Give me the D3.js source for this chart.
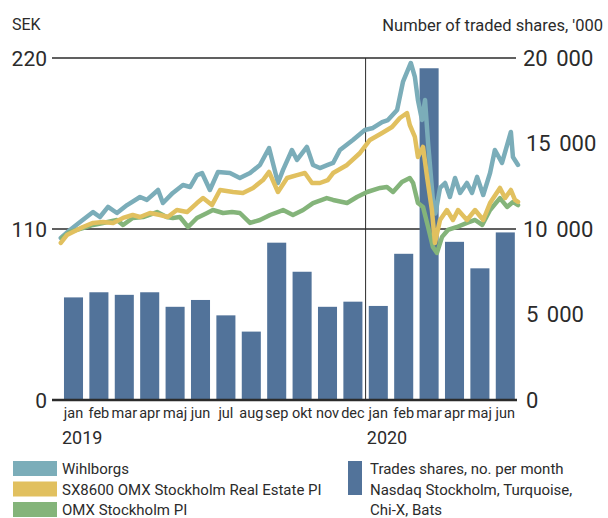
<!DOCTYPE html>
<html><head><meta charset="utf-8">
<script src="https://cdn.jsdelivr.net/npm/d3@7"></script>
<style>
body{margin:0;background:#fff;}
text{font-family:Roboto,"Noto Sans",sans-serif;fill:#2b2b2b;}
</style></head>
<body><svg id="c" width="608" height="518"></svg>
<script>
// ---- data ----
const months = ["jan","feb","mar","apr","maj","jun","jul","aug","sep","okt","nov","dec","jan","feb","mar","apr","maj","jun"];
const years = [{label:"2019", month:0},{label:"2020", month:12}];
// traded shares per month, '000
const tradedShares = [6000,6300,6150,6300,5450,5850,4950,4000,9200,7500,5450,5750,5500,8550,19400,9250,7700,9800];
const leftTicks = [0,110,220];
const rightTicks = [0,5000,10000,15000,20000];
// t = months since 1 Jan 2019, v = SEK
const wihlborgs = [[0,104.2],[0.36,109.4],[0.76,114.5],[1.27,120.9],[1.54,117.7],[1.86,124.2],[2.21,120.3],[2.61,125.4],[3.12,130.6],[3.39,128.7],[3.83,135.1],[4.02,126.7],[4.41,133.2],[4.81,138.3],[5.09,137.0],[5.36,144.7],[5.56,146.0],[5.87,135.1],[6.19,146.7],[6.66,146.0],[7.05,142.8],[7.45,146.0],[7.84,151.2],[8.20,162.1],[8.55,139.6],[8.75,148.0],[9.10,160.8],[9.30,154.4],[9.69,162.8],[9.93,151.2],[10.20,149.2],[10.51,151.2],[10.72,152.5],[10.99,160.8],[11.50,167.3],[11.97,173.7],[12.29,175.0],[12.65,178.8],[12.88,180.1],[13.24,186.6],[13.47,204.6],[13.78,216.8],[13.94,207.8],[14.06,193.0],[14.22,180.1],[14.34,193.0],[14.46,165.3],[14.65,128.7],[14.75,120.0],[14.93,136.4],[15.13,139.6],[15.32,130.6],[15.52,142.8],[15.72,133.2],[15.99,139.6],[16.19,133.2],[16.39,143.5],[16.63,131.9],[16.90,146.0],[17.09,160.8],[17.37,152.5],[17.72,172.4],[17.80,156.3],[18.0,151.2]];
const realEstate = [[0,101.0],[0.24,106.1],[0.87,111.3],[1.27,113.9],[1.66,114.5],[2.06,113.9],[2.45,117.1],[2.83,119.0],[3.12,117.7],[3.51,120.3],[3.91,119.0],[4.21,117.7],[4.57,122.2],[4.97,120.9],[5.36,126.7],[5.60,129.9],[5.95,125.4],[6.27,135.1],[6.78,133.8],[7.17,133.2],[7.57,136.4],[7.96,141.5],[8.20,146.7],[8.55,133.8],[8.91,142.8],[9.30,144.7],[9.61,146.0],[9.89,139.6],[10.20,139.6],[10.51,141.5],[10.72,146.0],[11.27,151.2],[11.78,158.9],[12.17,167.3],[12.65,171.8],[13.04,175.6],[13.35,181.4],[13.63,184.6],[13.74,176.9],[13.94,169.2],[14.06,156.3],[14.26,162.8],[14.42,143.5],[14.61,122.2],[14.73,101.0],[14.93,115.8],[15.20,122.2],[15.44,115.8],[15.64,122.2],[15.99,115.8],[16.31,122.2],[16.63,115.8],[16.90,126.7],[17.29,136.4],[17.49,129.9],[17.72,135.1],[17.88,128.7],[18.0,127.4]];
const omx = [[0.05,104.2],[0.36,108.1],[0.87,110.6],[1.27,112.6],[1.66,113.9],[2.21,115.8],[2.45,112.6],[2.83,117.1],[3.24,117.7],[3.79,120.9],[4.17,117.7],[4.41,117.1],[4.69,117.7],[5.01,111.3],[5.36,117.1],[5.76,120.3],[5.99,122.2],[6.39,120.3],[6.74,120.9],[7.05,120.3],[7.45,113.9],[7.84,115.8],[8.24,119.0],[8.75,122.2],[9.14,119.0],[9.54,122.2],[9.93,126.7],[10.47,129.9],[10.72,128.7],[11.27,126.7],[11.66,130.6],[12.06,133.8],[12.57,136.4],[12.84,137.0],[13.08,133.8],[13.43,140.2],[13.74,142.8],[13.87,139.6],[14.06,126.7],[14.26,124.2],[14.46,111.3],[14.65,98.4],[14.81,94.6],[15.01,104.9],[15.24,109.4],[15.60,111.3],[15.99,113.9],[16.31,115.8],[16.59,112.6],[16.90,122.2],[17.29,129.9],[17.57,124.2],[17.80,127.4],[18.0,125.4]];
const seriesNames = ["Wihlborgs","SX8600 OMX Stockholm Real Estate PI","OMX Stockholm PI"];
const seriesColors = ["#7badb9","#e1c05f","#84b47a"];
const barColor = "#52739a";
const barLegend = ["Trades shares, no. per month","Nasdaq Stockholm, Turquoise,","Chi-X, Bats"];

// ---- layout ----
const svg = d3.select("#c");
const x0 = 60.8, x1 = 518, yTop = 58, yBot = 400;
const xb = d3.scaleBand().domain(d3.range(months.length)).range([x0,x1]).paddingInner(0.25).paddingOuter(0.125);
const xt = d3.scaleLinear().domain([0,18]).range([x0,x1]);
const yL = d3.scaleLinear().domain([0,220]).range([yBot,yTop]);
const yR = d3.scaleLinear().domain([0,20000]).range([yBot,yTop]);
const ink = "#2b2b2b";

// gridlines
svg.append("g").selectAll("line").data([110,220]).join("line")
  .attr("x1",52).attr("x2",516).attr("y1",d=>yL(d)).attr("y2",d=>yL(d))
  .attr("stroke",ink).attr("stroke-width",1.5);
// year separator
const sepX = (xb(11)+xb.bandwidth()+xb(12))/2;
svg.append("line").attr("x1",sepX).attr("x2",sepX)
  .attr("y1",yTop).attr("y2",yBot).attr("stroke",ink).attr("stroke-width",1);

// bars
svg.append("g").selectAll("rect").data(tradedShares).join("rect")
  .attr("x",(d,i)=>xb(i)).attr("width",xb.bandwidth())
  .attr("y",d=>yR(d)).attr("height",d=>yBot-yR(d)).attr("fill",barColor);

// lines (drawn blue, green, yellow)
const line = d3.line().x(d=>xt(d[0])).y(d=>yL(d[1])).curve(d3.curveLinear);
[[wihlborgs,0],[omx,2],[realEstate,1]].forEach(([data,ci])=>{
  svg.append("path").datum(data).attr("d",line).attr("fill","none")
    .attr("stroke",seriesColors[ci]).attr("stroke-width",4.5)
    .attr("stroke-linejoin","round").attr("stroke-linecap","round");
});

// baseline
svg.append("line").attr("x1",52).attr("x2",517).attr("y1",yBot).attr("y2",yBot)
  .attr("stroke",ink).attr("stroke-width",2.5);

// left ticks
svg.append("g").selectAll("text").data(leftTicks).join("text")
  .attr("x",47).attr("y",d=>yL(d)+7.5).attr("text-anchor","end")
  .attr("font-size",21).text(d=>d);
// right ticks
const fmt = d=> d>=1000 ? d3.format(",")(d).replace(",", " ") : String(d);
svg.append("g").selectAll("text").data(rightTicks).join("text")
  .attr("x",d=> d%10000===0 && d>0 ? 523 : 526).attr("y",d=>yR(d)+7.5)
  .attr("font-size",22).style("word-spacing","3px").text(fmt);

// titles
svg.append("text").attr("x",12).attr("y",30).attr("font-size",16).text("SEK");
svg.append("text").attr("x",603).attr("y",31).attr("text-anchor","end").attr("font-size",16.5).text("Number of traded shares, '000");

// month labels
svg.append("g").selectAll("text").data(months).join("text")
  .attr("x",(d,i)=>xb(i)+xb.bandwidth()/2).attr("y",418).attr("text-anchor","middle")
  .attr("font-size",14.5).text(d=>d);
svg.append("g").selectAll("text").data(years).join("text")
  .attr("x",d=>xb(d.month)-2).attr("y",444).attr("font-size",18).text(d=>d.label);

// legend
const lg = svg.append("g");
seriesNames.forEach((n,i)=>{
  lg.append("rect").attr("x",13).attr("y",461+i*20.5).attr("width",44).attr("height",15).attr("fill",seriesColors[i]);
  lg.append("text").attr("x",62).attr("y",474+i*20.5).attr("font-size",15).text(n);
});
lg.append("rect").attr("x",348).attr("y",461).attr("width",14).attr("height",34).attr("fill",barColor);
barLegend.forEach((t,i)=>{
  lg.append("text").attr("x",370).attr("y",474+i*20.5).attr("font-size",15).text(t);
});
</script></body></html>
